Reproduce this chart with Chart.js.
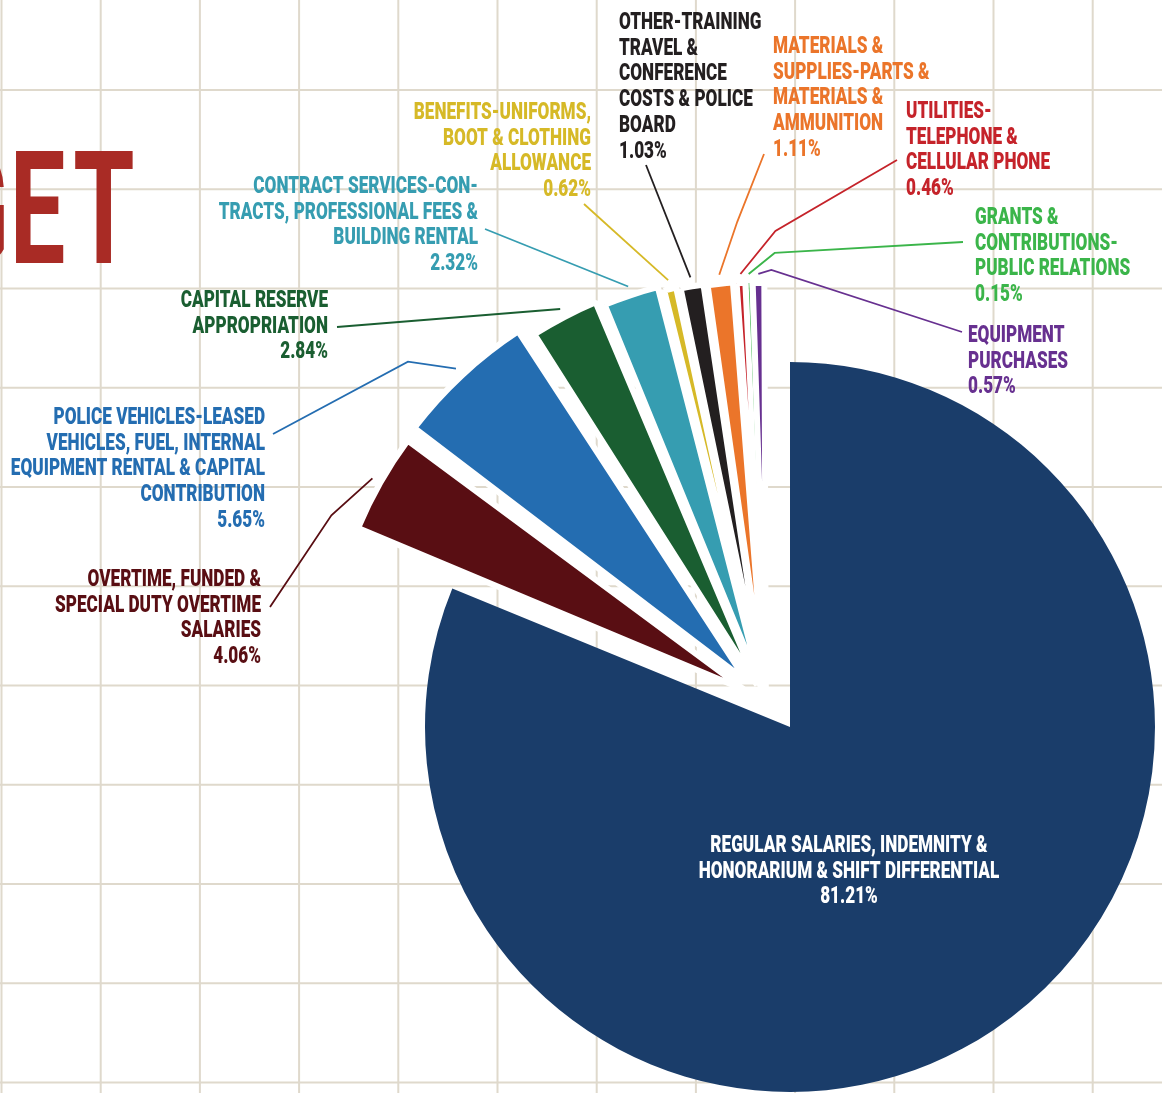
<!DOCTYPE html>
<html>
<head>
<meta charset="utf-8">
<script src="https://cdn.jsdelivr.net/npm/chart.js@4.4.1/dist/chart.umd.min.js"></script>
<style>
  html, body { margin: 0; padding: 0; background: #fff; }
  #wrap { position: relative; width: 1162px; height: 1093px; overflow: hidden; }
  #wrap canvas { position: absolute; left: 0; top: 0; }
</style>
</head>
<body>
<div id="wrap">
  <canvas id="bigPie" width="1162" height="1093"></canvas>
  <canvas id="fanPie" width="1162" height="1093"></canvas>
</div>
<script>
// budget categories (as printed on the chart) and their share of the total, in %
const categories = [
  ['REGULAR SALARIES, INDEMNITY &', 'HONORARIUM & SHIFT DIFFERENTIAL'],
  ['OVERTIME, FUNDED &', 'SPECIAL DUTY OVERTIME', 'SALARIES'],
  ['POLICE VEHICLES-LEASED', 'VEHICLES, FUEL, INTERNAL', 'EQUIPMENT RENTAL & CAPITAL', 'CONTRIBUTION'],
  ['CAPITAL RESERVE', 'APPROPRIATION'],
  ['CONTRACT SERVICES-CON-', 'TRACTS, PROFESSIONAL FEES &', 'BUILDING RENTAL'],
  ['BENEFITS-UNIFORMS,', 'BOOT & CLOTHING', 'ALLOWANCE'],
  ['OTHER-TRAINING', 'TRAVEL &', 'CONFERENCE', 'COSTS & POLICE', 'BOARD'],
  ['MATERIALS &', 'SUPPLIES-PARTS &', 'MATERIALS &', 'AMMUNITION'],
  ['UTILITIES-', 'TELEPHONE &', 'CELLULAR PHONE'],
  ['GRANTS &', 'CONTRIBUTIONS-', 'PUBLIC RELATIONS'],
  ['EQUIPMENT', 'PURCHASES']
];
const shares = [81.21, 4.06, 5.65, 2.84, 2.32, 0.62, 1.03, 1.11, 0.46, 0.15, 0.57];
const titleText = 'BUDGET';

const colors = ['#1a3d6a', '#590e13', '#246db1', '#1a5e31', '#369db1', '#d6b927',
                '#231f20', '#eb752a', '#c5232a', '#3bb54a', '#673090'];
const FONT = 'Roboto';
const WEIGHT = 900;

// small slices are pulled out of a second, slightly shifted pie
const fanOffsets = [0, 100, 112, 76, 62, 49, 46, 43, 40, 39, 39];
const fanBorders = [0, 6, 6, 6, 6, 6, 6, 6, 6, 0, 6];

// where each label sits, and where its leader line ends
const labelSpots = [
  { x: 849, top: 835, align: 'center' },
  { x: 261, top: 569, align: 'right', end: [270, 607], bend: [-41, 37] },
  { x: 265, top: 407, align: 'right', end: [273, 434], bend: [-48, -7] },
  { x: 328, top: 290, align: 'right', end: [337, 327] },
  { x: 478, top: 176, align: 'right', end: [485, 229] },
  { x: 591, top: 102, align: 'right', end: [584, 204] },
  { x: 619, top: 12, align: 'left', end: [646, 165] },
  { x: 773, top: 36, align: 'left', end: [764, 154], bend: [18, -53] },
  { x: 906, top: 101, align: 'left', end: [897, 160], bend: [35, -43] },
  { x: 975, top: 207, align: 'left', end: [963, 242], bend: [26, -21] },
  { x: 968, top: 325, align: 'left', end: [962, 332], bend: [13, -4] }
];

let textScale = 0.72;

function calibrate(ctx) {
  ctx.save();
  ctx.font = `${WEIGHT} 24px ${FONT}`;
  textScale = 142.4 / ctx.measureText('OTHER-TRAINING').width;
  ctx.restore();
}

function drawLines(ctx, lines, spot, color) {
  ctx.save();
  ctx.font = `${WEIGHT} 24px ${FONT}`;
  ctx.fillStyle = color;
  ctx.textAlign = spot.align;
  ctx.textBaseline = 'alphabetic';
  lines.forEach((t, k) => {
    ctx.save();
    ctx.translate(spot.x, spot.top + 17 + k * 25.7);
    ctx.scale(textScale, 1);
    ctx.fillText(t, 0, 0);
    ctx.restore();
  });
  ctx.restore();
}

function pct(v) {
  return v.toFixed(2) + '%';
}

function drawGrid(ctx) {
  ctx.save();
  ctx.strokeStyle = '#dfd9cc';
  ctx.lineWidth = 2;
  ctx.beginPath();
  for (let x = 1.5; x < 1162; x += 99.2) {
    ctx.moveTo(x, 0);
    ctx.lineTo(x, 1093);
  }
  for (let y = 90; y < 1093; y += 99.25) {
    ctx.moveTo(0, y);
    ctx.lineTo(1162, y);
  }
  ctx.stroke();
  ctx.restore();
}

function drawTitle(ctx) {
  ctx.save();
  ctx.font = `700 158px ${FONT}`;
  ctx.fillStyle = '#a92b25';
  ctx.textBaseline = 'alphabetic';
  const mE = ctx.measureText('E');
  const s = 47.6 / (mE.actualBoundingBoxRight + mE.actualBoundingBoxLeft);
  let right = 132.7;
  for (let k = titleText.length - 1; k >= 0; k--) {
    const m = ctx.measureText(titleText[k]);
    const ink = (m.actualBoundingBoxRight + m.actualBoundingBoxLeft) * s;
    const left = right - ink;
    ctx.save();
    ctx.translate(left + m.actualBoundingBoxLeft * s, 262.7);
    ctx.scale(s, 1);
    ctx.fillText(titleText[k], 0, 0);
    ctx.restore();
    right = left - 11.5;
  }
  ctx.restore();
}

const backdrop = {
  id: 'backdrop',
  beforeDraw(chart) {
    const ctx = chart.ctx;
    ctx.save();
    ctx.fillStyle = '#ffffff';
    ctx.fillRect(0, 0, chart.width, chart.height);
    ctx.restore();
    drawGrid(ctx);
    drawTitle(ctx);
  },
  afterDatasetsDraw(chart) {
    const ctx = chart.ctx;
    calibrate(ctx);
    drawLines(ctx, categories[0].concat(pct(shares[0])), labelSpots[0], '#ffffff');
  }
};

const leaders = {
  id: 'leaders',
  afterDatasetsDraw(chart) {
    const ctx = chart.ctx;
    calibrate(ctx);
    const meta = chart.getDatasetMeta(0);
    for (let i = 1; i < shares.length; i++) {
      const p = meta.data[i].getProps(['x', 'y', 'startAngle', 'endAngle', 'outerRadius'], true);
      const mid = (p.startAngle + p.endAngle) / 2;
      const shift = fanOffsets[i] / 4;
      const circ = p.endAngle - p.startAngle;
      const reach = shift + p.outerRadius + shift * (1 - Math.sin(Math.min(Math.PI, circ))) + 9;
      const sx = p.x + Math.cos(mid) * reach;
      const sy = p.y + Math.sin(mid) * reach;
      const spot = labelSpots[i];
      ctx.save();
      ctx.strokeStyle = colors[i];
      ctx.lineWidth = 1.8;
      ctx.beginPath();
      ctx.moveTo(sx, sy);
      if (spot.bend) ctx.lineTo(sx + spot.bend[0], sy + spot.bend[1]);
      ctx.lineTo(spot.end[0], spot.end[1]);
      ctx.stroke();
      ctx.restore();
      drawLines(ctx, categories[i].concat(pct(shares[i])), spot, colors[i]);
    }
  }
};

const commonOptions = {
  responsive: false,
  animation: false,
  events: [],
  devicePixelRatio: 1,
  plugins: { legend: { display: false }, tooltip: { enabled: false } }
};

// the large slice, centred at (790, 727)
new Chart(document.getElementById('bigPie'), {
  type: 'pie',
  data: {
    labels: categories,
    datasets: [{
      data: shares,
      backgroundColor: colors.map((c, i) => i === 0 ? c : 'rgba(0,0,0,0)'),
      borderWidth: 0,
      hoverOffset: 0,
      radius: 365,
      clip: false
    }]
  },
  options: Object.assign({}, commonOptions, {
    layout: { padding: { left: 418, top: 361, right: 0, bottom: 0 } }
  }),
  plugins: [backdrop]
});

// the exploded small slices
new Chart(document.getElementById('fanPie'), {
  type: 'pie',
  data: {
    labels: categories,
    datasets: [{
      data: shares,
      backgroundColor: colors.map((c, i) => i === 0 ? 'rgba(0,0,0,0)' : c),
      borderColor: '#ffffff',
      borderWidth: fanBorders,
      offset: fanOffsets,
      hoverOffset: 0,
      radius: 400,
      clip: false
    }]
  },
  options: Object.assign({}, commonOptions, {
    layout: { padding: { left: 370, top: 311, right: 0, bottom: 0 } }
  }),
  plugins: [leaders]
});
</script>
</body>
</html>
